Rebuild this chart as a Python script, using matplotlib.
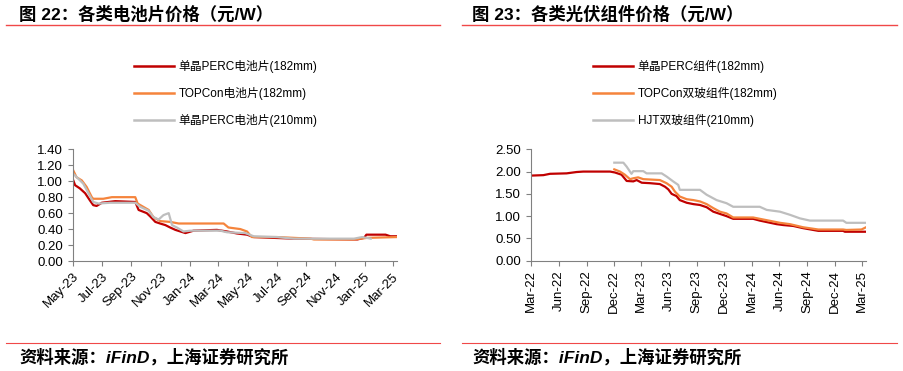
import pandas as pd
import matplotlib
matplotlib.use("Agg")
import matplotlib.pyplot as plt
import matplotlib.dates as mdates
from matplotlib.lines import Line2D

plt.rcParams['font.family'] = ['Liberation Sans', 'Noto Sans CJK SC']

RED = '#C00000'
ORANGE = '#F5843C'
GRAY = '#BEBEBE'
TITLE_RED = '#F04848'

# ---- 图22 电池片价格 (元/W) ----
cell_perc182_d = ['2023-05-01', '2023-05-06', '2023-05-16', '2023-05-27', '2023-06-06', '2023-06-13',
                  '2023-06-20', '2023-07-01', '2023-07-29', '2023-09-09', '2023-09-16', '2023-10-03',
                  '2023-10-10', '2023-10-21', '2023-10-31', '2023-11-11', '2023-11-21', '2023-12-02',
                  '2023-12-23', '2024-01-09', '2024-02-27', '2024-03-19', '2024-04-09', '2024-04-30',
                  '2024-05-14', '2024-08-06', '2024-12-17', '2024-12-31', '2025-01-05', '2025-02-14',
                  '2025-02-24', '2025-03-10']
cell_perc182_v = [1.03, 0.95, 0.91, 0.85, 0.76, 0.70, 0.69, 0.73, 0.75, 0.74, 0.64, 0.60,
                  0.56, 0.49, 0.47, 0.45, 0.42, 0.39, 0.35, 0.38, 0.39, 0.37, 0.345, 0.33,
                  0.30, 0.28, 0.27, 0.29, 0.33, 0.33, 0.31, 0.31]

cell_topcon182_d = ['2023-05-01', '2023-05-09', '2023-05-20', '2023-05-30', '2023-06-10', '2023-06-13',
                    '2023-07-04', '2023-07-22', '2023-09-09', '2023-09-14', '2023-10-07', '2023-10-17',
                    '2023-10-31', '2023-11-21', '2023-12-09', '2024-03-12', '2024-03-22', '2024-04-16',
                    '2024-04-30', '2024-05-10', '2024-07-02', '2024-09-10', '2024-09-17', '2024-12-10',
                    '2024-12-24', '2025-01-07', '2025-03-10']
cell_topcon182_v = [1.15, 1.05, 1.01, 0.93, 0.80, 0.78, 0.78, 0.80, 0.80, 0.72, 0.64, 0.55,
                    0.50, 0.49, 0.47, 0.47, 0.42, 0.40, 0.37, 0.30, 0.30, 0.28, 0.27, 0.27,
                    0.28, 0.29, 0.30]

cell_perc210_d = ['2023-05-01', '2023-05-13', '2023-05-23', '2023-06-03', '2023-06-13', '2023-06-24',
                  '2023-07-18', '2023-09-09', '2023-09-19', '2023-10-07', '2023-10-17', '2023-10-28',
                  '2023-11-07', '2023-11-18', '2023-11-25', '2023-12-05', '2023-12-19', '2024-01-02',
                  '2024-03-05', '2024-03-19', '2024-04-26', '2024-05-14', '2024-07-02', '2024-08-06',
                  '2024-12-10', '2024-12-27', '2025-01-14']
cell_perc210_v = [1.10, 1.03, 0.97, 0.85, 0.74, 0.72, 0.73, 0.73, 0.68, 0.63, 0.55, 0.52,
                  0.575, 0.60, 0.45, 0.42, 0.37, 0.38, 0.38, 0.36, 0.35, 0.31, 0.30, 0.28,
                  0.28, 0.30, 0.28]

# ---- 图23 组件价格 (元/W) ----
mod_perc182_d = ['2022-03-01', '2022-04-11', '2022-05-03', '2022-06-27', '2022-07-30', '2022-08-21',
                 '2022-11-18', '2022-12-04', '2022-12-26', '2023-01-12', '2023-02-03', '2023-02-14',
                 '2023-03-03', '2023-03-30', '2023-05-02', '2023-05-19', '2023-05-30', '2023-06-10',
                 '2023-06-26', '2023-07-07', '2023-07-30', '2023-08-21', '2023-09-12', '2023-10-04',
                 '2023-10-26', '2023-11-17', '2023-12-09', '2023-12-31', '2024-03-06', '2024-03-28',
                 '2024-05-23', '2024-06-14', '2024-07-17', '2024-08-19', '2024-10-08', '2024-12-29',
                 '2025-01-04', '2025-03-15']
mod_perc182_v = [1.91, 1.92, 1.95, 1.96, 1.99, 2.00, 2.00, 1.98, 1.93, 1.79, 1.78, 1.81,
                 1.75, 1.74, 1.72, 1.66, 1.60, 1.50, 1.45, 1.36, 1.30, 1.27, 1.25, 1.20,
                 1.10, 1.05, 1.00, 0.94, 0.94, 0.90, 0.82, 0.80, 0.78, 0.73, 0.67, 0.67,
                 0.65, 0.65]

mod_topcon182_d = ['2022-12-02', '2022-12-21', '2023-01-06', '2023-01-23', '2023-02-03', '2023-02-19',
                   '2023-03-08', '2023-05-02', '2023-05-24', '2023-06-10', '2023-06-21', '2023-07-07',
                   '2023-07-30', '2023-08-21', '2023-09-12', '2023-10-04', '2023-10-26', '2023-11-17',
                   '2023-12-09', '2023-12-31', '2024-03-06', '2024-03-28', '2024-06-03', '2024-07-06',
                   '2024-08-19', '2024-10-08', '2024-12-29', '2025-01-09', '2025-02-28', '2025-03-15']
mod_topcon182_v = [2.05, 2.00, 1.93, 1.83, 1.85, 1.87, 1.83, 1.81, 1.74, 1.66, 1.55, 1.44,
                   1.38, 1.36, 1.33, 1.27, 1.18, 1.10, 1.06, 0.97, 0.97, 0.94, 0.85, 0.82,
                   0.75, 0.70, 0.70, 0.69, 0.70, 0.75]

mod_hjt210_d = ['2022-12-02', '2023-01-01', '2023-01-12', '2023-01-28', '2023-02-03', '2023-03-08',
                '2023-03-19', '2023-05-08', '2023-05-24', '2023-06-15', '2023-07-02', '2023-07-07',
                '2023-09-12', '2023-10-04', '2023-11-06', '2023-12-09', '2023-12-31', '2024-03-28',
                '2024-04-20', '2024-06-03', '2024-07-06', '2024-08-08', '2024-09-10', '2024-12-29',
                '2025-01-09', '2025-03-15']
mod_hjt210_v = [2.20, 2.20, 2.11, 1.95, 2.01, 2.01, 1.96, 1.96, 1.89, 1.78, 1.70, 1.59,
                1.59, 1.48, 1.36, 1.29, 1.21, 1.21, 1.14, 1.10, 1.03, 0.95, 0.90, 0.90,
                0.85, 0.85]

cell_labels = ['单晶PERC电池片(182mm)', 'TOPCon电池片(182mm)', '单晶PERC电池片(210mm)']
mod_labels = ['单晶PERC组件(182mm)', 'TOPCon双玻组件(182mm)', 'HJT双玻组件(210mm)']

fig = plt.figure(figsize=(9.04, 3.71), dpi=100)
W, H = 904, 371


def fx(px):
    return px / W


def fy(py):
    return 1 - py / H


def style_axes(ax):
    for s in ['top', 'right']:
        ax.spines[s].set_visible(False)
    for s in ['left', 'bottom']:
        ax.spines[s].set_color('#808080')
        ax.spines[s].set_linewidth(0.8)
    ax.tick_params(axis='both', colors='#808080', labelcolor='black', labelsize=9.5,
                   length=3.5, width=0.8, direction='out')


# left chart
ax1 = fig.add_axes([fx(72.7), fy(261), fx(397 - 72.7), (261 - 149.3) / H])
series1 = [(cell_perc182_d, cell_perc182_v, RED),
           (cell_topcon182_d, cell_topcon182_v, ORANGE),
           (cell_perc210_d, cell_perc210_v, GRAY)]
for d, v, c in series1:
    ax1.plot(pd.to_datetime(d), v, color=c, lw=1.6, solid_joinstyle='round')
ax1.set_ylim(0, 1.4)
ax1.set_yticks([0, 0.2, 0.4, 0.6, 0.8, 1.0, 1.2, 1.4])
ax1.yaxis.set_major_formatter(plt.FuncFormatter(lambda v, p: f'{v:.2f}'))
ax1.set_xlim(pd.Timestamp('2023-05-01'), pd.Timestamp('2025-03-10'))
ax1.xaxis.set_major_locator(mdates.MonthLocator(bymonth=[1, 3, 5, 7, 9, 11]))
ax1.xaxis.set_major_formatter(mdates.DateFormatter('%b-%y'))
style_axes(ax1)
for lb in ax1.get_xticklabels():
    lb.set_rotation(45)
    lb.set_ha('right')
    lb.set_rotation_mode('anchor')

# right chart
ax2 = fig.add_axes([fx(531), fy(260.7), fx(866 - 531), (260.7 - 149.3) / H])
series2 = [(mod_perc182_d, mod_perc182_v, RED),
           (mod_topcon182_d, mod_topcon182_v, ORANGE),
           (mod_hjt210_d, mod_hjt210_v, GRAY)]
for d, v, c in series2:
    ax2.plot(pd.to_datetime(d), v, color=c, lw=1.6, solid_joinstyle='round')
ax2.set_ylim(0, 2.5)
ax2.set_yticks([0, 0.5, 1.0, 1.5, 2.0, 2.5])
ax2.yaxis.set_major_formatter(plt.FuncFormatter(lambda v, p: f'{v:.2f}'))
ax2.set_xlim(pd.Timestamp('2022-03-01'), pd.Timestamp('2025-03-15'))
ax2.xaxis.set_major_locator(mdates.MonthLocator(bymonth=[3, 6, 9, 12]))
ax2.xaxis.set_major_formatter(mdates.DateFormatter('%b-%y'))
style_axes(ax2)
for lb in ax2.get_xticklabels():
    lb.set_rotation(90)
    lb.set_ha('center')

# legends
for anchor_x, labels in [(129, cell_labels), (588, mod_labels)]:
    handles = [Line2D([], [], color=c, lw=1.8) for c in (RED, ORANGE, GRAY)]
    fig.legend(handles, labels, loc='upper left', bbox_to_anchor=(fx(anchor_x), fy(55)),
               frameon=False, fontsize=8.5, handlelength=3.4, handletextpad=0.42,
               labelspacing=1.2, borderaxespad=0)

# titles, separators, source
for x0, x1, tx, title in [(6, 440, 19, '图 22：各类电池片价格（元/W）'),
                          (462, 897, 472, '图 23：各类光伏组件价格（元/W）')]:
    fig.text(fx(tx), fy(14), title, fontsize=12.5, fontweight='bold', va='center', ha='left')
    fig.add_artist(Line2D([fx(x0), fx(x1)], [fy(25), fy(25)], color=TITLE_RED, lw=1.0))
    fig.add_artist(Line2D([fx(x0), fx(x1)], [fy(343), fy(343)], color=TITLE_RED, lw=0.8))
    fig.text(fx(tx), fy(357), '资料来源：iFinD，上海证券研究所', fontsize=12.5,
             fontweight='bold', style='italic', va='center', ha='left')

fig.savefig('out.png', dpi=100)
